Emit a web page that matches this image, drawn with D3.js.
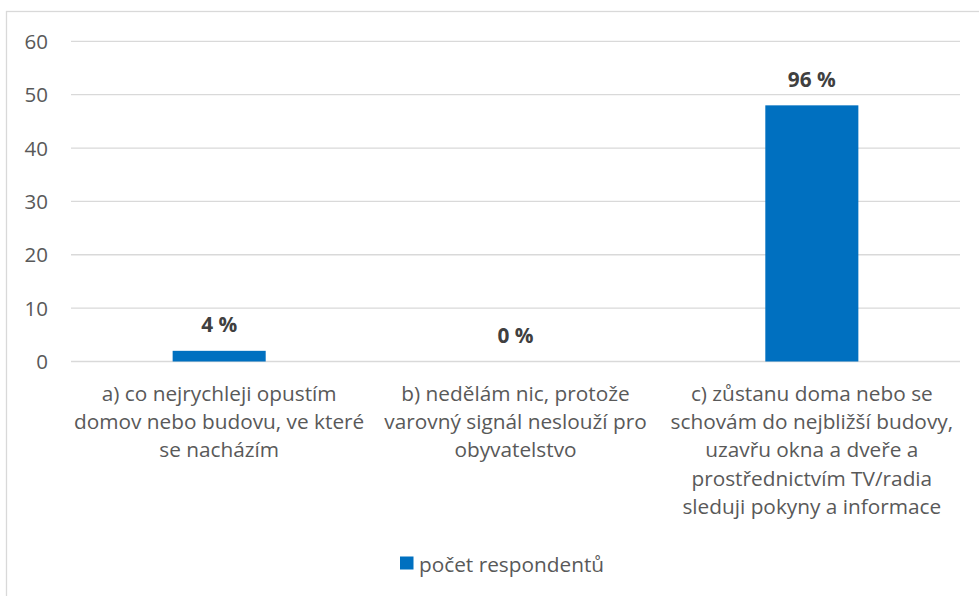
<!DOCTYPE html>
<html><head><meta charset="utf-8">
<script src="https://cdn.jsdelivr.net/npm/d3@7"></script>
<style>body{margin:0;background:#fff;} svg{display:block;}</style>
</head><body>
<svg id="chart" width="979" height="596"></svg>
<script>
const categories = [
  ["a) co nejrychleji opustím", "domov nebo budovu, ve které", "se nacházím"],
  ["b) nedělám nic, protože", "varovný signál neslouží pro", "obyvatelstvo"],
  ["c) zůstanu doma nebo se", "schovám do nejbližší budovy,", "uzavřu okna a dveře a", "prostřednictvím TV/radia", "sleduji pokyny a informace"]
];
const values = [2, 0, 48];
const valueLabels = ["4 %", "0 %", "96 %"];
const yTicks = [0, 10, 20, 30, 40, 50, 60];
const seriesName = "počet respondentů";

(function () {
const font = "'Open Sans', 'Noto Sans', sans-serif";
const fs = 20.8;
const svg = d3.select("#chart");
const W = 979, H = 596;
const pLeft = 71, pRight = 960, pTop = 41.3, pBottom = 361.5;

svg.append("rect").attr("x", 6.5).attr("y", 11.5).attr("width", W + 10).attr("height", H + 10)
  .attr("fill", "#fff").attr("stroke", "#D9D9D9").attr("stroke-width", 1.3);

const x = d3.scaleBand().domain(d3.range(categories.length)).range([pLeft, pRight]).paddingInner(0).paddingOuter(0);
const y = d3.scaleLinear().domain([0, 60]).range([pBottom, pTop]);

// gridlines
svg.append("g").selectAll("line").data(yTicks).join("line")
  .attr("x1", pLeft).attr("x2", pRight)
  .attr("y1", d => y(d)).attr("y2", d => y(d))
  .attr("stroke", "#D9D9D9").attr("stroke-width", 1.3);

// y axis labels
const yAxis = d3.axisLeft(y).tickValues(yTicks).tickSize(0).tickPadding(0);
const ya = svg.append("g").attr("transform", "translate(48,0)").call(yAxis);
ya.select(".domain").remove();
ya.selectAll("text").attr("font-family", font).attr("font-size", 20.5).attr("fill", "#595959").attr("dy", "0.35em");

// bars
const bw = x.bandwidth() * 0.314;
svg.append("g").selectAll("rect").data(values).join("rect")
  .attr("x", (d, i) => x(i) + x.bandwidth() / 2 - bw / 2)
  .attr("width", bw)
  .attr("y", d => y(d))
  .attr("height", d => y(0) - y(d))
  .attr("fill", "#0070C0");

// data labels
svg.append("g").selectAll("text").data(values).join("text")
  .attr("x", (d, i) => x(i) + x.bandwidth() / 2)
  .attr("y", d => y(d) - 18.5)
  .attr("text-anchor", "middle")
  .attr("font-family", font).attr("font-size", fs).attr("font-weight", "bold")
  .attr("fill", "#404040")
  .text((d, i) => valueLabels[i]);

// category labels
const cg = svg.append("g");
categories.forEach((lines, i) => {
  const t = cg.append("text")
    .attr("text-anchor", "middle")
    .attr("font-family", font).attr("font-size", fs).attr("fill", "#595959");
  lines.forEach((ln, j) => {
    t.append("tspan").attr("x", x(i) + x.bandwidth() / 2).attr("y", 401 + j * 28.2).text(ln);
  });
});

// legend
const lg = svg.append("g");
lg.append("rect").attr("x", 400).attr("y", 556.5).attr("width", 13.5).attr("height", 13).attr("fill", "#0070C0");
lg.append("text").attr("x", 419).attr("y", 571.5)
  .attr("font-family", font).attr("font-size", fs).attr("fill", "#595959").text(seriesName);
})();
</script>
</body></html>
